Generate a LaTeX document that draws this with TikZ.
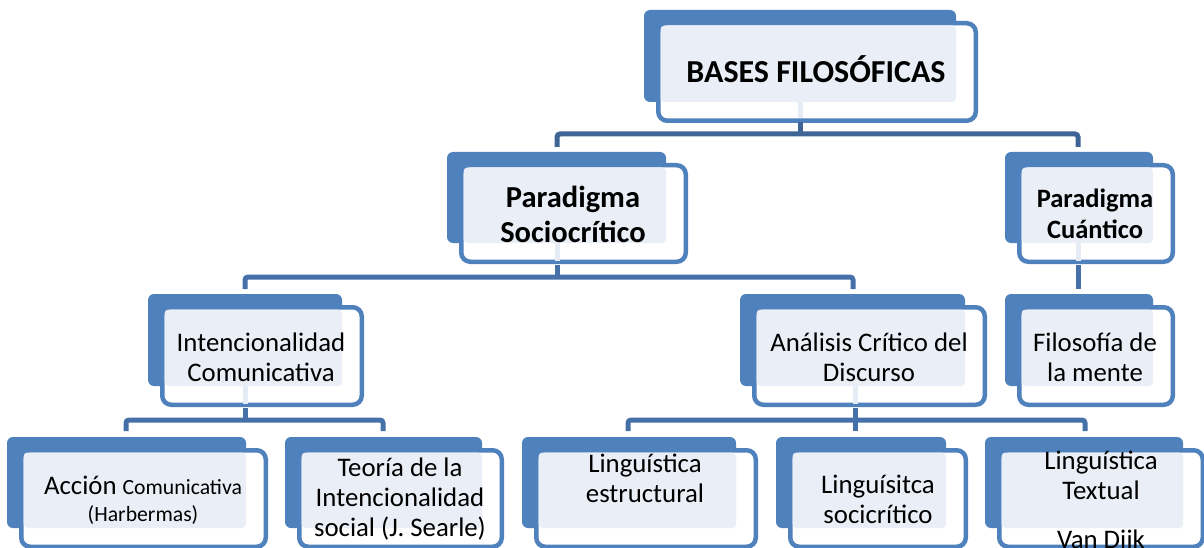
\documentclass[tikz,border=0pt]{standalone}
\usepackage{fontspec}
\setmainfont{Carlito}
\definecolor{boxblue}{HTML}{4F81BD}
\definecolor{lightfill}{HTML}{EAEFF7}
\definecolor{conn}{HTML}{4571A8}
\definecolor{conntop}{HTML}{3F6597}
\definecolor{faint}{HTML}{E6ECF5}
\tikzset{
  backbox/.style={fill=boxblue, rounded corners=6pt},
  frontbox/.style={draw=boxblue, line width=4.5pt, fill=white, rounded corners=9pt},
  lightbox/.style={fill=lightfill, rounded corners=4pt},
  conline/.style={draw=conn, line width=5pt, rounded corners=3pt},
  faintline/.style={draw=faint, line width=5pt},
  txt/.style={align=center, inner sep=0pt, text=black, font=\fontsize{26.8}{30}\selectfont},
  titlefont/.style={font=\fontsize{32}{38}\bfseries\selectfont},
  parfont/.style={font=\fontsize{30.5}{35}\bfseries\selectfont},
  cuafont/.style={font=\fontsize{26.5}{30.5}\bfseries\selectfont},
}
\newcommand\smalltxt[1]{{\fontsize{21.7}{26}\selectfont #1}}
% name, bx1, by1, bx2, by2, position, node options, text
\newcommand\orgbox[8]{%
  \fill[backbox] (#2,#3) rectangle (#4,#5);
  \draw[frontbox] ({#2+12+2.25},{#3+11+2.25}) rectangle ({#4+22-2.25},{#5+21-2.25});
  \fill[lightbox] ({#2+12+4.5},{#3+11+4.5}) rectangle (#4,#5);
  \node[txt, #7] (#1) at #6 {#8};
}
\begin{document}
\begin{tikzpicture}[x=1pt,y=-1pt]
\useasboundingbox (0,0) rectangle (1204,548);
\fill[white] (0,0) rectangle (1204,548);

% boxes
\orgbox{top}{644}{10}{956}{102}{(816,69)}{titlefont}{BASES FILOSÓFICAS}
\orgbox{soc}{447}{152}{666}{243}{(573,214)}{parfont}{Paradigma\\ Sociocrítico}
\orgbox{cua}{1005}{152}{1153}{243}{(1095,214)}{cuafont}{Paradigma\\ Cuántico}
\orgbox{inten}{148}{294}{342}{386}{(261,357)}{}{Intencionalidad\\ Comunicativa}
\orgbox{acd}{740}{294}{965}{386}{(869,357)}{}{Análisis Crítico del\\ Discurso}
\orgbox{fil}{1005}{294}{1153}{386}{(1095,357)}{}{Filosofía de\\ la mente}
\orgbox{accion}{7}{437}{246}{528}{(143,500)}{}{Acción \smalltxt{Comunicativa}\\[-3pt] \smalltxt{(Harbermas)}}
\orgbox{teoria}{285}{437}{482}{528}{(400,499)}{}{Teoría de la\\ Intencionalidad\\ social (J. Searle)}
\orgbox{estr}{522}{437}{736}{528}{(645,478)}{}{Linguística\\ estructural}
\orgbox{socic}{776}{437}{946}{528}{(878,499)}{}{Linguísitca\\ socicrítico}
\orgbox{textual}{985}{437}{1183}{528}{(1101,502)}{}{Linguística\\ Textual\\[19pt] Van Dijk}

% named connection points
\coordinate (b1) at (800,134);
\coordinate (b2) at (557,277);
\coordinate (b3l) at (245,420);
\coordinate (b3r) at (855,420);

% faint segments inside the front boxes
\draw[faintline] (800,102) -- (800,118);
\draw[faintline] (557,243) -- (557,261);
\draw[faintline] (1078,243) -- (1078,261);
\draw[faintline] (245,386) -- (245,404);
\draw[faintline] (855,386) -- (855,404);

% connectors
\draw[conline, draw=conntop] (800,122) -- (b1);
\draw[conline, draw=conntop] (557,147) |- (b1) -| (1078,147);
\draw[conline] (557,265) -- (b2);
\draw[conline] (245,289) |- (b2) -| (853,289);
\draw[conline] (1078,265) -- (1078,289);
\draw[conline] (245,408) -- (b3l);
\draw[conline] (126,431) |- (b3l) -| (383,431);
\draw[conline] (855,408) -- (b3r);
\draw[conline] (628,431) |- (b3r) -| (1085,431);
\draw[conline] (b3r) -- (855,431);
\end{tikzpicture}
\end{document}
